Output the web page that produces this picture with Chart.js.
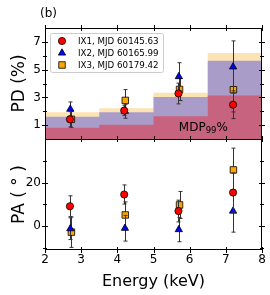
<!DOCTYPE html>
<html>
<head>
<meta charset="utf-8">
<script src="https://cdn.jsdelivr.net/npm/chart.js@4"></script>
<style>
html, body { margin: 0; padding: 0; background: #fff; }
#wrap { width: 270px; height: 295px; }
</style>
</head>
<body>
<div id="wrap"><canvas id="grafico"></canvas></div>
<script>
// series names
const nomes = ['IX1, MJD 60145.63', 'IX2, MJD 60165.99', 'IX3, MJD 60179.42'];

// energy of the points (keV), small offsets per observation
const energiaIx1 = [2.69, 4.19, 5.69, 7.20];
const energiaIx2 = [2.70, 4.21, 5.70, 7.20];
const energiaIx3 = [2.73, 4.22, 5.72, 7.21];

// PD (%)
const pdIx1 = [1.42, 2.05, 3.28, 2.47];
const pdIx1Err = [0.55, 0.35, 0.75, 1.0];
const pdIx2 = [2.15, 2.0, 4.5, 5.2];
const pdIx2Err = [0.52, 0.5, 1.0, 1.87];
const pdIx3 = [1.42, 2.78, 3.57, 3.55];
const pdIx3Err = [0.58, 0.78, 0.8, 1.6];

// PA (deg)
const paIx1 = [9.1, 14.5, 6.9, 15.4];
const paIx1Err = [4.8, 4.4, 5.0, 9.0];
const paIx2 = [-1.2, -1.0, -1.6, 6.9];
const paIx2Err = [5.0, 5.9, 5.6, 9.7];
const paIx3 = [-2.8, 5.1, 9.7, 25.8];
const paIx3Err = [7.0, 6.0, 6.2, 10.0];

// MDP99 bins
const binsEnergia = [2, 3.5, 5, 6.5, 8];
const mdpIx1 = [0.81, 1.02, 1.64, 3.14];
const mdpIx2 = [1.6, 1.93, 3.03, 5.64];
const mdpIx3 = [1.93, 2.22, 3.34, 6.19];

// tick values
const ticksPd = [1, 3, 5, 7];
const ticksPdMenor = [2, 4, 6];
const ticksPa = [0, 20];
const ticksPaMenor = [-10, 10, 30];
const ticksEnergia = [2, 3, 4, 5, 6, 7, 8];

const cores = ['#ff0000', '#0000ff', '#ffa500'];
const estilos = ['circle', 'triangle', 'rect'];
const raios = [3.6, 4.2, 4.6];

Chart.defaults.font.family = "'DejaVu Sans', sans-serif";
Chart.defaults.color = '#000';

function pontos(xs, ys) {
    return xs.map((x, i) => ({ x: x, y: ys[i] }));
}

function degraus(mdp) {
    let d = mdp.map((v, i) => ({ x: binsEnergia[i], y: v }));
    d.push({ x: binsEnergia[binsEnergia.length - 1], y: mdp[mdp.length - 1] });
    return d;
}

function serie(i, xs, ys, err, eixo) {
    return {
        label: nomes[i],
        data: pontos(xs, ys),
        errY: err,
        yAxisID: eixo,
        pointStyle: estilos[i],
        pointRadius: raios[i],
        pointHoverRadius: raios[i],
        backgroundColor: cores[i],
        borderColor: '#000',
        borderWidth: 0.8,
        showLine: false
    };
}

function faixa(mdp, cor) {
    return {
        type: 'line',
        data: degraus(mdp),
        yAxisID: 'y',
        stepped: true,
        fill: 'origin',
        backgroundColor: cor,
        borderWidth: 0,
        borderColor: 'rgba(0,0,0,0)',
        pointRadius: 0
    };
}

const painelPlugin = {
    id: 'painel',
    beforeDatasetDraw(chart, args) {
        const ds = chart.data.datasets[args.index];
        if (!ds.errY) return;
        const ctx = chart.ctx;
        const sx = chart.scales.x;
        const sy = chart.scales[ds.yAxisID];
        ctx.save();
        ctx.strokeStyle = '#333';
        ctx.lineWidth = 1;
        ds.data.forEach((p, i) => {
            const x = Math.round(sx.getPixelForValue(p.x)) + 0.5;
            const y0 = sy.getPixelForValue(p.y - ds.errY[i]);
            const y1 = sy.getPixelForValue(p.y + ds.errY[i]);
            ctx.beginPath();
            ctx.moveTo(x, y0);
            ctx.lineTo(x, y1);
            ctx.moveTo(x - 2, y0);
            ctx.lineTo(x + 2, y0);
            ctx.moveTo(x - 2, y1);
            ctx.lineTo(x + 2, y1);
            ctx.stroke();
        });
        ctx.restore();
    },
    afterDraw(chart) {
        const ctx = chart.ctx;
        const a = chart.chartArea;
        const sx = chart.scales.x;
        const y1 = chart.scales.y;
        const y2 = chart.scales.y2;
        ctx.save();
        ctx.strokeStyle = '#000';
        ctx.lineWidth = 1;
        ctx.strokeRect(a.left + 0.5, a.top + 0.5, a.right - a.left - 1, a.bottom - a.top - 1);
        ctx.beginPath();
        ctx.moveTo(a.left, Math.round(y1.bottom) + 0.5);
        ctx.lineTo(a.right, Math.round(y1.bottom) + 0.5);
        ctx.stroke();

        // ticks on all sides
        ctx.beginPath();
        function ticksY(escala, vals, len) {
            for (let v of vals) {
                const y = Math.round(escala.getPixelForValue(v)) + 0.5;
                ctx.moveTo(a.left - len, y); ctx.lineTo(a.left + len, y);
                ctx.moveTo(a.right - len, y); ctx.lineTo(a.right + len, y);
            }
        }
        ticksY(y1, ticksPd, 3);
        ticksY(y1, ticksPdMenor, 2);
        ticksY(y2, ticksPa, 3);
        ticksY(y2, ticksPaMenor, 2);
        for (let v of ticksEnergia) {
            const x = Math.round(sx.getPixelForValue(v)) + 0.5;
            for (let yy of [a.top, y1.bottom, a.bottom]) {
                ctx.moveTo(x, yy - 3); ctx.lineTo(x, yy + 3);
            }
        }
        ctx.stroke();

        // legend
        const lx = 50, ly = 33, lw = 113, lh = 39;
        ctx.fillStyle = 'rgba(255,255,255,0.85)';
        ctx.strokeStyle = '#cccccc';
        ctx.beginPath();
        ctx.roundRect(lx + 0.5, ly + 0.5, lw, lh, 2);
        ctx.fill();
        ctx.stroke();
        ctx.font = "8.7px 'DejaVu Sans'";
        ctx.textBaseline = 'middle';
        for (let i = 0; i < nomes.length; i++) {
            const yy = ly + 8 + i * 12;
            ctx.fillStyle = cores[i];
            ctx.strokeStyle = '#000';
            ctx.lineWidth = 0.8;
            Chart.helpers.drawPoint(ctx, { pointStyle: estilos[i], radius: raios[i], rotation: 0, borderWidth: 0.8 }, lx + 12, yy);
            ctx.fillStyle = '#000';
            ctx.fillText(nomes[i], lx + 28, yy + 0.5);
        }

        // MDP99% label
        ctx.fillStyle = '#000';
        ctx.textBaseline = 'alphabetic';
        let tx = sx.getPixelForValue(5.7);
        const ty = y1.getPixelForValue(0.6);
        ctx.font = "12px 'DejaVu Sans'";
        ctx.fillText('MDP', tx, ty);
        tx += ctx.measureText('MDP').width;
        ctx.font = "8.5px 'DejaVu Sans'";
        ctx.fillText('99', tx, ty + 2);
        tx += ctx.measureText('99').width;
        ctx.font = "12px 'DejaVu Sans'";
        ctx.fillText('%', tx, ty);

        // panel label
        ctx.font = "12px 'DejaVu Sans'";
        ctx.fillText('(b)', 40, 17);
        ctx.restore();
    }
};

new Chart('grafico', {
    type: 'scatter',
    data: {
        datasets: [
            serie(0, energiaIx1, pdIx1, pdIx1Err, 'y'),
            serie(1, energiaIx2, pdIx2, pdIx2Err, 'y'),
            serie(2, energiaIx3, pdIx3, pdIx3Err, 'y'),
            serie(0, energiaIx1, paIx1, paIx1Err, 'y2'),
            serie(1, energiaIx2, paIx2, paIx2Err, 'y2'),
            serie(2, energiaIx3, paIx3, paIx3Err, 'y2'),
            faixa(mdpIx1, '#c8637f'),
            faixa(mdpIx2, '#a99cc9'),
            faixa(mdpIx3, '#fce3b4')
        ]
    },
    options: {
        responsive: true,
        maintainAspectRatio: false,
        animation: false,
        events: [],
        layout: { padding: { left: 0, right: 8, top: 28, bottom: 0 } },
        plugins: {
            legend: { display: false },
            tooltip: { enabled: false }
        },
        scales: {
            x: {
                type: 'linear',
                position: 'bottom',
                min: 2,
                max: 8,
                afterFit: s => { s.height = 45; },
                afterBuildTicks: s => { s.ticks = ticksEnergia.map(v => ({ value: v })); },
                ticks: { autoSkip: false, maxRotation: 0, padding: 3, font: { size: 12 } },
                grid: { drawOnChartArea: false, drawTicks: false },
                border: { display: false },
                title: { display: true, text: 'Energy (keV)', font: { size: 16 }, padding: { top: 0, bottom: 4 } }
            },
            // bottom panel listed first: stacked left axes are placed bottom-up
            y2: {
                type: 'linear',
                position: 'left',
                stack: 'painel',
                stackWeight: 1,
                min: -11,
                max: 40,
                afterFit: s => { s.width = 45; },
                afterBuildTicks: s => { s.ticks = ticksPa.map(v => ({ value: v })); },
                ticks: { padding: 4, font: { size: 12 } },
                grid: { drawOnChartArea: false, drawTicks: false },
                border: { display: false },
                title: { display: true, text: 'PA ( ° )', font: { size: 17 }, padding: { top: 9, bottom: 0 } }
            },
            y: {
                type: 'linear',
                position: 'left',
                stack: 'painel',
                stackWeight: 1,
                min: 0,
                max: 8,
                afterFit: s => { s.width = 45; },
                afterBuildTicks: s => { s.ticks = ticksPd.map(v => ({ value: v })); },
                ticks: { padding: 4, font: { size: 12 } },
                grid: { drawOnChartArea: false, drawTicks: false },
                border: { display: false },
                title: { display: true, text: 'PD (%)', font: { size: 17 }, padding: { top: 9, bottom: 0 } }
            }
        }
    },
    plugins: [painelPlugin]
});
</script>
</body>
</html>
